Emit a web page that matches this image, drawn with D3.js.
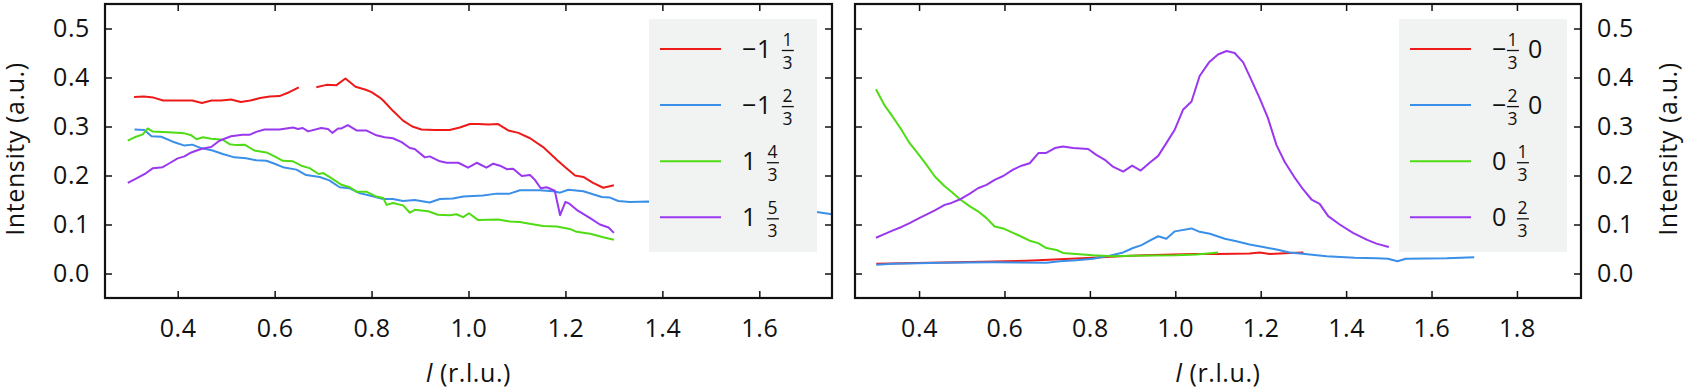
<!DOCTYPE html>
<html>
<head>
<meta charset="utf-8">
<script src="https://cdn.jsdelivr.net/npm/d3@7"></script>
<style>
  body { margin: 0; background: #fff; }
  svg { display: block; font-family: "Open Sans", sans-serif; letter-spacing: 0.6px; }
</style>
</head>
<body>
<svg id="chart" width="1688" height="391"></svg>
<script>
// Left panel: (h k) = (-1 1/3), (-1 2/3), (1 4/3), (1 5/3)
const leftRed = [[0.31,0.360],[0.33,0.361],[0.35,0.359],[0.37,0.353],[0.40,0.353],[0.43,0.353],[0.45,0.348],[0.47,0.353],[0.49,0.353],[0.51,0.355],[0.53,0.350],[0.55,0.353],[0.57,0.358],[0.59,0.361],[0.61,0.362],[0.63,0.370],[0.65,0.380],[0.67,null],[0.686,0.380],[0.707,0.385],[0.727,0.384],[0.746,0.398],[0.767,0.381],[0.788,0.375],[0.80,0.370],[0.817,0.359],[0.824,0.353],[0.844,0.332],[0.865,0.312],[0.884,0.300],[0.903,0.294],[0.93,0.293],[0.961,0.293],[0.982,0.298],[1.003,0.305],[1.02,0.305],[1.041,0.304],[1.061,0.305],[1.082,0.292],[1.103,0.287],[1.127,0.276],[1.154,0.258],[1.182,0.232],[1.202,0.215],[1.22,0.200],[1.237,0.197],[1.257,0.185],[1.278,0.175],[1.30,0.180]];
const leftBlue = [[0.311,0.294],[0.331,0.293],[0.346,0.280],[0.366,0.279],[0.39,0.269],[0.414,0.261],[0.43,0.263],[0.448,0.256],[0.472,0.251],[0.493,0.244],[0.517,0.237],[0.541,0.235],[0.562,0.231],[0.583,0.230],[0.60,0.224],[0.617,0.217],[0.645,0.212],[0.665,0.201],[0.693,0.197],[0.713,0.190],[0.734,0.176],[0.755,0.174],[0.775,0.164],[0.796,0.159],[0.824,0.152],[0.844,0.152],[0.865,0.148],[0.889,0.150],[0.92,0.145],[0.941,0.152],[0.968,0.153],[0.989,0.157],[1.03,0.159],[1.058,0.163],[1.085,0.163],[1.106,0.170],[1.147,0.170],[1.175,0.168],[1.189,0.165],[1.206,0.171],[1.237,0.168],[1.275,0.156],[1.292,0.155],[1.309,0.148],[1.333,0.146],[1.372,0.147],[1.45,0.142],[1.55,0.136],[1.65,0.130],[1.722,0.125],[1.75,0.121]];
const leftGreen = [[0.297,0.271],[0.311,0.278],[0.328,0.284],[0.338,0.296],[0.348,0.290],[0.369,0.289],[0.39,0.288],[0.414,0.286],[0.428,0.282],[0.439,0.274],[0.452,0.278],[0.469,0.275],[0.493,0.273],[0.507,0.264],[0.521,0.262],[0.538,0.263],[0.558,0.251],[0.583,0.247],[0.60,0.239],[0.617,0.230],[0.638,0.229],[0.655,0.220],[0.672,0.215],[0.691,0.203],[0.70,0.205],[0.713,0.197],[0.738,0.181],[0.755,0.176],[0.769,0.167],[0.789,0.167],[0.81,0.157],[0.824,0.154],[0.831,0.140],[0.844,0.144],[0.865,0.139],[0.879,0.124],[0.889,0.130],[0.917,0.127],[0.937,0.120],[0.961,0.119],[0.975,0.121],[0.989,0.115],[1.001,0.123],[1.02,0.109],[1.061,0.110],[1.085,0.106],[1.106,0.105],[1.123,0.102],[1.154,0.097],[1.182,0.096],[1.209,0.091],[1.223,0.085],[1.251,0.081],[1.278,0.074],[1.30,0.069]];
const leftPurple = [[0.297,0.185],[0.317,0.195],[0.335,0.205],[0.349,0.215],[0.369,0.217],[0.383,0.225],[0.40,0.235],[0.414,0.239],[0.428,0.247],[0.448,0.254],[0.469,0.258],[0.486,0.271],[0.51,0.280],[0.534,0.283],[0.548,0.283],[0.562,0.289],[0.579,0.294],[0.61,0.294],[0.624,0.296],[0.638,0.298],[0.648,0.295],[0.658,0.297],[0.669,0.290],[0.696,0.297],[0.71,0.295],[0.719,0.287],[0.731,0.296],[0.738,0.296],[0.751,0.303],[0.769,0.292],[0.789,0.292],[0.81,0.282],[0.827,0.278],[0.844,0.276],[0.862,0.268],[0.879,0.256],[0.889,0.254],[0.91,0.237],[0.92,0.239],[0.941,0.229],[0.955,0.226],[0.979,0.226],[0.999,0.216],[1.017,0.226],[1.037,0.216],[1.051,0.224],[1.065,0.220],[1.079,0.213],[1.092,0.214],[1.11,0.199],[1.127,0.201],[1.137,0.191],[1.149,0.174],[1.161,0.176],[1.178,0.169],[1.189,0.119],[1.20,0.146],[1.209,0.142],[1.223,0.130],[1.251,0.113],[1.271,0.100],[1.289,0.094],[1.30,0.083]];

// Right panel: (h k) = (-1/3 0), (-2/3 0), (0 1/3), (0 2/3)
const rightRed = [[0.30,0.020],[0.456,0.0225],[0.55,0.024],[0.651,0.026],[0.73,0.029],[0.807,0.032],[0.87,0.035],[0.925,0.037],[1.042,0.040],[1.10,0.040],[1.174,0.041],[1.198,0.043],[1.221,0.040],[1.268,0.042],[1.30,0.043]];
const rightBlue = [[0.30,0.018],[0.339,0.020],[0.456,0.022],[0.573,0.023],[0.698,0.022],[0.73,0.025],[0.768,0.027],[0.807,0.030],[0.839,0.035],[0.878,0.043],[0.901,0.052],[0.921,0.058],[0.94,0.067],[0.96,0.076],[0.979,0.071],[0.999,0.086],[1.038,0.092],[1.057,0.085],[1.081,0.081],[1.116,0.071],[1.143,0.066],[1.174,0.059],[1.206,0.054],[1.237,0.049],[1.268,0.043],[1.315,0.039],[1.354,0.035],[1.42,0.032],[1.471,0.031],[1.498,0.030],[1.52,0.025],[1.54,0.030],[1.636,0.031],[1.70,0.033]];
const rightGreen = [[0.299,0.376],[0.32,0.342],[0.339,0.319],[0.359,0.293],[0.378,0.266],[0.398,0.244],[0.417,0.222],[0.437,0.198],[0.46,0.178],[0.476,0.167],[0.495,0.152],[0.519,0.137],[0.538,0.127],[0.558,0.113],[0.577,0.096],[0.597,0.092],[0.62,0.083],[0.64,0.075],[0.659,0.067],[0.679,0.062],[0.698,0.052],[0.722,0.048],[0.737,0.042],[0.768,0.040],[0.807,0.037],[0.854,0.035],[0.90,0.036],[1.0,0.037],[1.05,0.039],[1.10,0.043]];
const rightPurple = [[0.299,0.073],[0.32,0.081],[0.339,0.088],[0.359,0.095],[0.378,0.103],[0.398,0.112],[0.417,0.120],[0.437,0.129],[0.46,0.140],[0.476,0.144],[0.495,0.151],[0.519,0.163],[0.538,0.174],[0.558,0.181],[0.577,0.191],[0.597,0.199],[0.62,0.212],[0.64,0.220],[0.659,0.225],[0.68,0.246],[0.698,0.246],[0.718,0.256],[0.737,0.259],[0.761,0.256],[0.796,0.254],[0.815,0.242],[0.835,0.232],[0.854,0.218],[0.878,0.208],[0.899,0.220],[0.919,0.210],[0.94,0.226],[0.96,0.240],[0.979,0.266],[0.999,0.294],[1.018,0.334],[1.038,0.351],[1.057,0.403],[1.079,0.431],[1.10,0.447],[1.12,0.454],[1.139,0.450],[1.159,0.431],[1.178,0.395],[1.198,0.357],[1.217,0.317],[1.237,0.262],[1.256,0.228],[1.28,0.195],[1.299,0.172],[1.319,0.151],[1.338,0.142],[1.358,0.117],[1.385,0.100],[1.416,0.083],[1.448,0.069],[1.471,0.061],[1.50,0.054]];

// legend labels as [before, numerator, denominator, after]
const leftLabels = [["−1", "1", "3", ""], ["−1", "2", "3", ""], ["1", "4", "3", ""], ["1", "5", "3", ""]];
const rightLabels = [["−", "1", "3", "0"], ["−", "2", "3", "0"], ["0", "1", "3", ""], ["0", "2", "3", ""]];

const leftXTicks = [0.4, 0.6, 0.8, 1.0, 1.2, 1.4, 1.6];
const rightXTicks = [0.4, 0.6, 0.8, 1.0, 1.2, 1.4, 1.6, 1.8];
const yTicks = [0.0, 0.1, 0.2, 0.3, 0.4, 0.5];

const colors = ['#ee1a1a', '#3a8fe8', '#4fdc14', '#9a38f0'];

const svg = d3.select('#chart');
const plotTop = 4, plotBottom = 298;
const fontSize = 25;

const panels = [
  { x0: 105, x1: 832, domain: [0.25, 1.75], ticks: leftXTicks, series: [leftRed, leftBlue, leftGreen, leftPurple], labels: leftLabels, legendX: 649, side: 'left' },
  { x0: 855, x1: 1581, domain: [0.25, 1.95], ticks: rightXTicks, series: [rightRed, rightBlue, rightGreen, rightPurple], labels: rightLabels, legendX: 1399, side: 'right' }
];

const y = d3.scaleLinear().domain([-0.05, 0.55]).range([plotBottom, plotTop]);

panels.forEach(p => {
  const x = d3.scaleLinear().domain(p.domain).range([p.x0, p.x1]);
  const g = svg.append('g');

  const clipId = 'clip-' + p.side;
  svg.append('clipPath').attr('id', clipId)
    .append('rect').attr('x', p.x0).attr('y', plotTop).attr('width', p.x1 - p.x0).attr('height', plotBottom - plotTop);

  const line = d3.line()
    .defined(d => d[1] !== null)
    .x(d => x(d[0]))
    .y(d => y(d[1]));

  g.append('g').attr('clip-path', `url(#${clipId})`)
    .selectAll('path')
    .data(p.series)
    .enter()
    .append('path')
    .attr('d', line)
    .attr('fill', 'none')
    .attr('stroke', (d, i) => colors[i])
    .attr('stroke-width', 2)
    .attr('stroke-linejoin', 'round');

  // legend box, lines and fraction labels
  const lg = g.append('g');
  lg.append('rect')
    .attr('x', p.legendX).attr('y', 19)
    .attr('width', 168).attr('height', 233)
    .attr('fill', '#f1f3f3');

  p.labels.forEach((lab, i) => {
    const ly = 49 + i * 56.1;
    lg.append('line')
      .attr('x1', p.legendX + 11).attr('x2', p.legendX + 72)
      .attr('y1', ly).attr('y2', ly)
      .attr('stroke', colors[i]).attr('stroke-width', 2);

    let cx = p.legendX + 93;
    if (lab[0]) {
      const t = lg.append('text').attr('x', cx).attr('y', ly + 8.5)
        .attr('font-size', fontSize).attr('fill', '#111').text(lab[0]);
      cx += t.node().getComputedTextLength() + (lab[0] === '−' ? 0 : 10);
    }
    const fw = 12;
    const fc = cx + fw / 2;
    lg.append('text').attr('x', fc).attr('y', ly - 3)
      .attr('text-anchor', 'middle').attr('font-size', 17.5).attr('fill', '#111').text(lab[1]);
    lg.append('text').attr('x', fc).attr('y', ly + 19.5)
      .attr('text-anchor', 'middle').attr('font-size', 17.5).attr('fill', '#111').text(lab[2]);
    lg.append('line')
      .attr('x1', fc - fw / 2).attr('x2', fc + fw / 2)
      .attr('y1', ly + 1.5).attr('y2', ly + 1.5)
      .attr('stroke', '#111').attr('stroke-width', 1.3);
    cx += fw + 9;
    if (lab[3]) {
      lg.append('text').attr('x', cx).attr('y', ly + 8.5)
        .attr('font-size', fontSize).attr('fill', '#111').text(lab[3]);
    }
  });

  // axes with inward ticks
  const fmt = d3.format('.1f');
  const ax = g.append('g').attr('class', 'axes');
  ax.append('g').attr('transform', `translate(0,${plotBottom})`)
    .call(d3.axisBottom(x).tickValues(p.ticks).tickSize(-7).tickPadding(21).tickFormat(fmt));
  ax.append('g').attr('transform', `translate(0,${plotTop})`)
    .call(d3.axisTop(x).tickValues(p.ticks).tickSize(-7).tickFormat(''));

  const yLeft = d3.axisLeft(y).tickValues(yTicks).tickSize(-7).tickPadding(15)
    .tickFormat(p.side === 'left' ? fmt : '');
  const yRight = d3.axisRight(y).tickValues(yTicks).tickSize(-7).tickPadding(16)
    .tickFormat(p.side === 'right' ? fmt : '');
  ax.append('g').attr('transform', `translate(${p.x0},0)`).call(yLeft);
  ax.append('g').attr('transform', `translate(${p.x1},0)`).call(yRight);

  ax.selectAll('.domain').remove();
  ax.selectAll('.tick line').attr('stroke', '#111').attr('stroke-width', 1.5);
  ax.selectAll('.tick text').attr('font-size', fontSize).attr('fill', '#111')
    .attr('font-family', '"Open Sans", sans-serif');

  g.append('rect')
    .attr('x', p.x0).attr('y', plotTop)
    .attr('width', p.x1 - p.x0).attr('height', plotBottom - plotTop)
    .attr('fill', 'none').attr('stroke', '#111').attr('stroke-width', 2.2);

  // x axis title: italic l
  const xt = g.append('text')
    .attr('x', (p.x0 + p.x1) / 2).attr('y', 382)
    .attr('text-anchor', 'middle').attr('font-size', fontSize).attr('fill', '#111');
  xt.append('tspan').attr('font-style', 'italic').text('l');
  xt.append('tspan').text(' (r.l.u.)');

  // y axis title
  const yx = p.side === 'left' ? 24 : 1677;
  g.append('text')
    .attr('transform', `translate(${yx},${(plotTop + plotBottom) / 2 - 2}) rotate(-90)`)
    .attr('text-anchor', 'middle').attr('font-size', fontSize).attr('fill', '#111')
    .text('Intensity (a.u.)');
});
</script>
</body>
</html>
